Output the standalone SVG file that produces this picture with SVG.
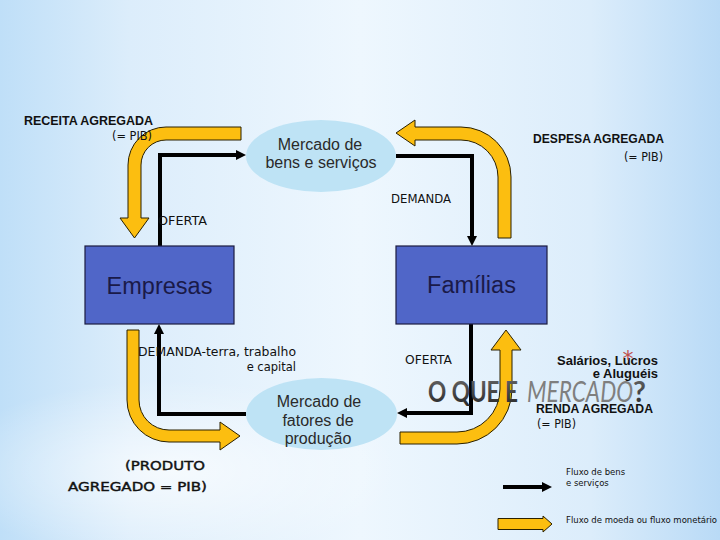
<svg xmlns="http://www.w3.org/2000/svg" width="720" height="540" viewBox="0 0 720 540">
<defs>
<linearGradient id="bg" x1="0" y1="0" x2="1" y2="0">
<stop offset="0" stop-color="#bfdff8"/>
<stop offset="0.18" stop-color="#dcedfb"/>
<stop offset="0.5" stop-color="#eef7fe"/>
<stop offset="0.82" stop-color="#dcedfb"/>
<stop offset="1" stop-color="#b9daf6"/>
</linearGradient>
<radialGradient id="glow" cx="0.5" cy="0.5" r="0.5">
<stop offset="0" stop-color="#ffffff" stop-opacity="0.7"/>
<stop offset="1" stop-color="#ffffff" stop-opacity="0"/>
</radialGradient>
<linearGradient id="tg" x1="0" y1="0" x2="0" y2="1">
<stop offset="0" stop-color="#6a6a6a"/>
<stop offset="1" stop-color="#262626"/>
</linearGradient>
<marker id="ah" viewBox="0 0 10 10" markerWidth="10" markerHeight="10" refX="3" refY="5" orient="auto" markerUnits="userSpaceOnUse">
<path d="M0,0 L10,5 L0,10 Z" fill="#000"/>
</marker>
</defs>
<style>
.box{fill:#5066c8;stroke:#1b1b40;stroke-width:1.2}
.mk{fill:#bee3f5}
.bt{font-family:"Liberation Sans",Arial,sans-serif;font-size:23.5px;fill:#1a1a48;text-anchor:middle}
.mt{font-family:"Liberation Sans",Arial,sans-serif;font-size:16px;fill:#2a2a2a;text-anchor:middle}
.lb{font-family:"DejaVu Sans",Verdana,sans-serif;font-size:11.5px;fill:#111}
.pr{stroke:#111;stroke-width:0.4}
.bd{font-family:"Liberation Sans",Arial,sans-serif;font-size:13px;font-weight:bold;fill:#111}
.sm{font-family:"DejaVu Sans",Verdana,sans-serif;font-size:8.5px;fill:#111}
.bl{fill:none;stroke:#000;stroke-width:4;stroke-linejoin:miter;marker-end:url(#ah)}
.ya{fill:#fcbe10;stroke:#2a2000;stroke-width:1}
</style>
<rect width="720" height="540" fill="url(#bg)"/>
<ellipse cx="170" cy="470" rx="230" ry="90" fill="url(#glow)"/>

<g id="connectors">
<path class="bl" d="M160,246 V155 H239"/>
<path class="bl" d="M396,156 H472 V239"/>
<path class="bl" d="M471,324 V413 H404"/>
<path class="bl" d="M246,414 H159 V331"/>
<path class="ya" d="M241,127 H166 A38,38 0 0 0 128,165 V218 H120 L134.5,238 L149,218 H141 V165 A25,25 0 0 1 166,140 H241 Z"/>
<path class="ya" d="M396,133 L415,120 V127 H461 A50,50 0 0 1 511,177 V238 H498 V177 A37,37 0 0 0 461,140 H415 V146 Z"/>
<path class="ya" d="M127,330 H139 V400 A30,30 0 0 0 169,430 H220 V422 L240,436 L220,450 V442 H169 A42,42 0 0 1 127,400 Z"/>
<path class="ya" d="M400,432 H457 A43,43 0 0 0 500,389 V350 H491 L506,330 L521,350 H512 V389 A55,55 0 0 1 457,444 H400 Z"/>
</g>

<g id="empresas">
<rect class="box" x="85" y="246" width="149" height="78"/>
<text class="bt" x="159.5" y="294">Empresas</text>
</g>
<g id="familias">
<rect class="box" x="396" y="246" width="151" height="78"/>
<text class="bt" x="471.5" y="293">Famílias</text>
</g>
<g id="mercado-bens">
<ellipse class="mk" cx="321" cy="156" rx="75" ry="36"/>
<text class="mt" x="320" y="150">Mercado de</text>
<text class="mt" x="321" y="168">bens e serviços</text>
</g>
<g id="mercado-fatores">
<ellipse class="mk" cx="321.5" cy="414" rx="75.5" ry="36"/>
<text class="mt" x="319" y="407">Mercado de</text>
<text class="mt" x="318" y="426">fatores de</text>
<text class="mt" x="318" y="444">produção</text>
</g>

<g id="labels">
<text class="bd" x="24" y="125" textLength="129" lengthAdjust="spacingAndGlyphs">RECEITA AGREGADA</text>
<text class="lb" x="112" y="140" font-size="12" textLength="40" lengthAdjust="spacingAndGlyphs">(= PIB)</text>
<text class="bd" x="533" y="143" textLength="131" lengthAdjust="spacingAndGlyphs">DESPESA AGREGADA</text>
<text class="lb" x="624" y="161" font-size="12" textLength="39" lengthAdjust="spacingAndGlyphs">(= PIB)</text>
<text class="lb" x="391" y="203" textLength="60" lengthAdjust="spacingAndGlyphs">DEMANDA</text>
<text class="lb" x="158" y="225" textLength="49" lengthAdjust="spacingAndGlyphs">OFERTA</text>
<text class="lb" x="138" y="356" font-size="12" textLength="158" lengthAdjust="spacingAndGlyphs">DEMANDA-terra, trabalho</text>
<text class="lb" x="296" y="371" font-size="12" text-anchor="end">e capital</text>
<text class="lb" x="405" y="364" textLength="47" lengthAdjust="spacingAndGlyphs">OFERTA</text>
<text class="bd" x="557" y="365" textLength="101" lengthAdjust="spacingAndGlyphs">Salários, Lucros</text>
<text class="bd" x="658" y="378" text-anchor="end">e Aluguéis</text>
<text x="628" y="366" font-family="DejaVu Sans,sans-serif" font-size="22" fill="#c0504d" text-anchor="middle">*</text>
<text class="bd" x="536" y="413" textLength="117" lengthAdjust="spacingAndGlyphs">RENDA AGREGADA</text>
<text class="lb" x="537" y="428" font-size="12" textLength="39" lengthAdjust="spacingAndGlyphs">(= PIB)</text>
<text class="lb pr" x="205" y="470" font-size="15" text-anchor="end" textLength="80" lengthAdjust="spacingAndGlyphs">(PRODUTO</text>
<text class="lb pr" x="68" y="491" font-size="15" textLength="139" lengthAdjust="spacingAndGlyphs">AGREGADO = PIB)</text>
<text font-family="Lato,'Open Sans',sans-serif" font-size="28" y="402"><tspan x="428" font-weight="bold" fill="url(#tg)" textLength="90" lengthAdjust="spacingAndGlyphs">O QUE E</tspan><tspan x="527" font-style="italic" fill="#7f7f7f" textLength="106" lengthAdjust="spacingAndGlyphs">MERCADO</tspan><tspan x="633" font-weight="bold" fill="url(#tg)">?</tspan></text>
</g>

<g id="legend">
<path class="bl" d="M503,487 H545"/>
<text class="sm" x="566" y="475">Fluxo de bens</text>
<text class="sm" x="566" y="486">e serviços</text>
<path class="ya" d="M498,518.5 H543 V516 L552,524 L543,532 V529.5 H498 Z"/>
<text class="sm" x="566" y="523">Fluxo de moeda ou fluxo monetário</text>
</g>
</svg>
